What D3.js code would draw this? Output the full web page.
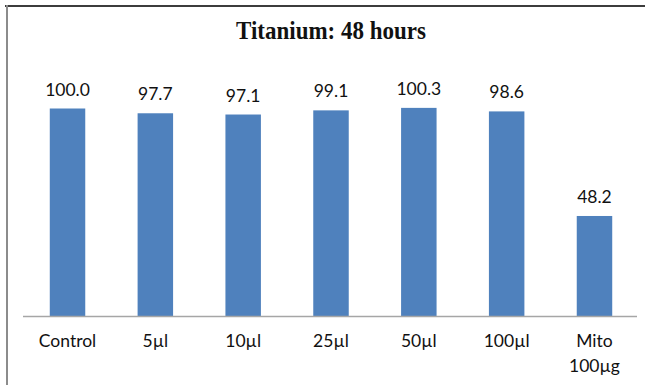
<!DOCTYPE html>
<html>
<head>
<meta charset="utf-8">
<script src="https://cdn.jsdelivr.net/npm/d3@7"></script>
<style>
  html, body { margin: 0; padding: 0; background: #fff; }
  svg { display: block; }
</style>
</head>
<body>
<svg id="chart" width="645" height="385"></svg>
<script>
// Cell viability after 48 h of titanium exposure
const categories = ["Control", "5µl", "10µl", "25µl", "50µl", "100µl", "Mito\n100µg"];
const values = [100.0, 97.7, 97.1, 99.1, 100.3, 98.6, 48.2];
const valueLabels = ["100.0", "97.7", "97.1", "99.1", "100.3", "98.6", "48.2"];
const title = "Titanium: 48 hours";

const svg = d3.select("#chart");
const W = 645, H = 385;
const baseY = 316;

svg.append("rect").attr("width", W).attr("height", H).attr("fill", "#fff");

// chart frame (top and left edges visible)
svg.append("line").attr("x1", 5).attr("x2", W).attr("y1", 6).attr("y2", 6)
  .attr("stroke", "#3c3c3c").attr("stroke-width", 2);
svg.append("line").attr("x1", 7).attr("x2", 7).attr("y1", 5).attr("y2", H)
  .attr("stroke", "#8c8c8c").attr("stroke-width", 2);

// title, slightly tall-set
svg.append("text")
  .attr("transform", "translate(331,39) scale(1,1.1)")
  .attr("text-anchor", "middle")
  .attr("font-family", "'Liberation Serif', 'Times New Roman', serif")
  .attr("font-weight", "bold")
  .attr("font-size", 23)
  .attr("fill", "#111")
  .text(title);

const x = d3.scaleBand()
  .domain(categories)
  .range([23.6, 638.4])
  .paddingInner(0.596)
  .paddingOuter(0.298);

const y = d3.scaleLinear().domain([0, 120]).range([baseY, baseY - 249]);

const font = "Lato, 'Open Sans', sans-serif";

svg.append("g")
  .selectAll("rect")
  .data(values)
  .join("rect")
  .attr("x", (d, i) => x(categories[i]))
  .attr("width", x.bandwidth())
  .attr("y", d => y(d))
  .attr("height", d => y(0) - y(d))
  .attr("fill", "#4f81bd");

svg.append("g")
  .selectAll("text")
  .data(values)
  .join("text")
  .attr("x", (d, i) => x(categories[i]) + x.bandwidth() / 2)
  .attr("y", d => y(d) - 13)
  .attr("text-anchor", "middle")
  .attr("font-family", font)
  .attr("font-size", 17.5)
  .attr("fill", "#111")
  .text((d, i) => valueLabels[i]);

const axis = svg.append("g")
  .attr("transform", `translate(0,${baseY})`)
  .call(d3.axisBottom(x).tickSize(0).tickPadding(0).tickSizeOuter(0));

axis.select(".domain")
  .attr("d", `M${x.range()[0] - 0.6},0.5H637`)
  .attr("stroke", "#a6a6a6")
  .attr("stroke-width", 1.5);

axis.selectAll(".tick text").each(function (d) {
  const t = d3.select(this);
  const lines = d.split("\n");
  t.text(null)
    .attr("y", 0)
    .attr("dy", null)
    .attr("font-family", font)
    .attr("font-size", 17.5)
    .attr("fill", "#111");
  lines.forEach((ln, k) => {
    t.append("tspan")
      .attr("x", 0)
      .attr("y", 31 + k * 25)
      .text(ln);
  });
});
</script>
</body>
</html>
